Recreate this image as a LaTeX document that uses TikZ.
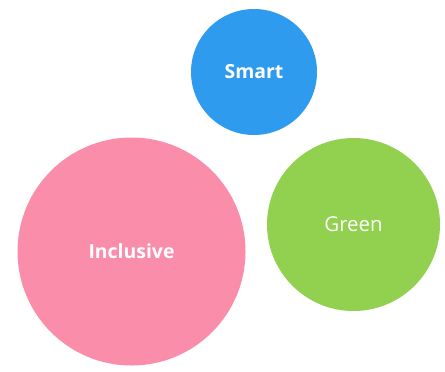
\documentclass[tikz,border=0pt]{standalone}
\usepackage{fontspec}
\setmainfont{Open Sans}
\usepackage{tikz}
\definecolor{smartblue}{HTML}{2F9BEF}
\definecolor{greengreen}{HTML}{92D050}
\definecolor{inclpink}{HTML}{F98DAA}
\tikzset{
  bubble/.style={circle,inner sep=0pt,text=white,font=\fontsize{19.5}{22}\selectfont\bfseries}
}

\begin{document}
\begin{tikzpicture}[x=1bp,y=-1bp]
\useasboundingbox (0,0) rectangle (445,371);
\node[bubble,fill=smartblue,minimum size=126bp] (smart) at (254,72) {Smart};
\node[bubble,fill=greengreen,minimum size=173bp,font=\fontsize{20.5}{22}\selectfont] (green) at (353.5,224.5) {Green};
\node[bubble,fill=inclpink,minimum size=228bp] (incl) at (131.5,251.5) {Inclusive};
\end{tikzpicture}
\end{document}
